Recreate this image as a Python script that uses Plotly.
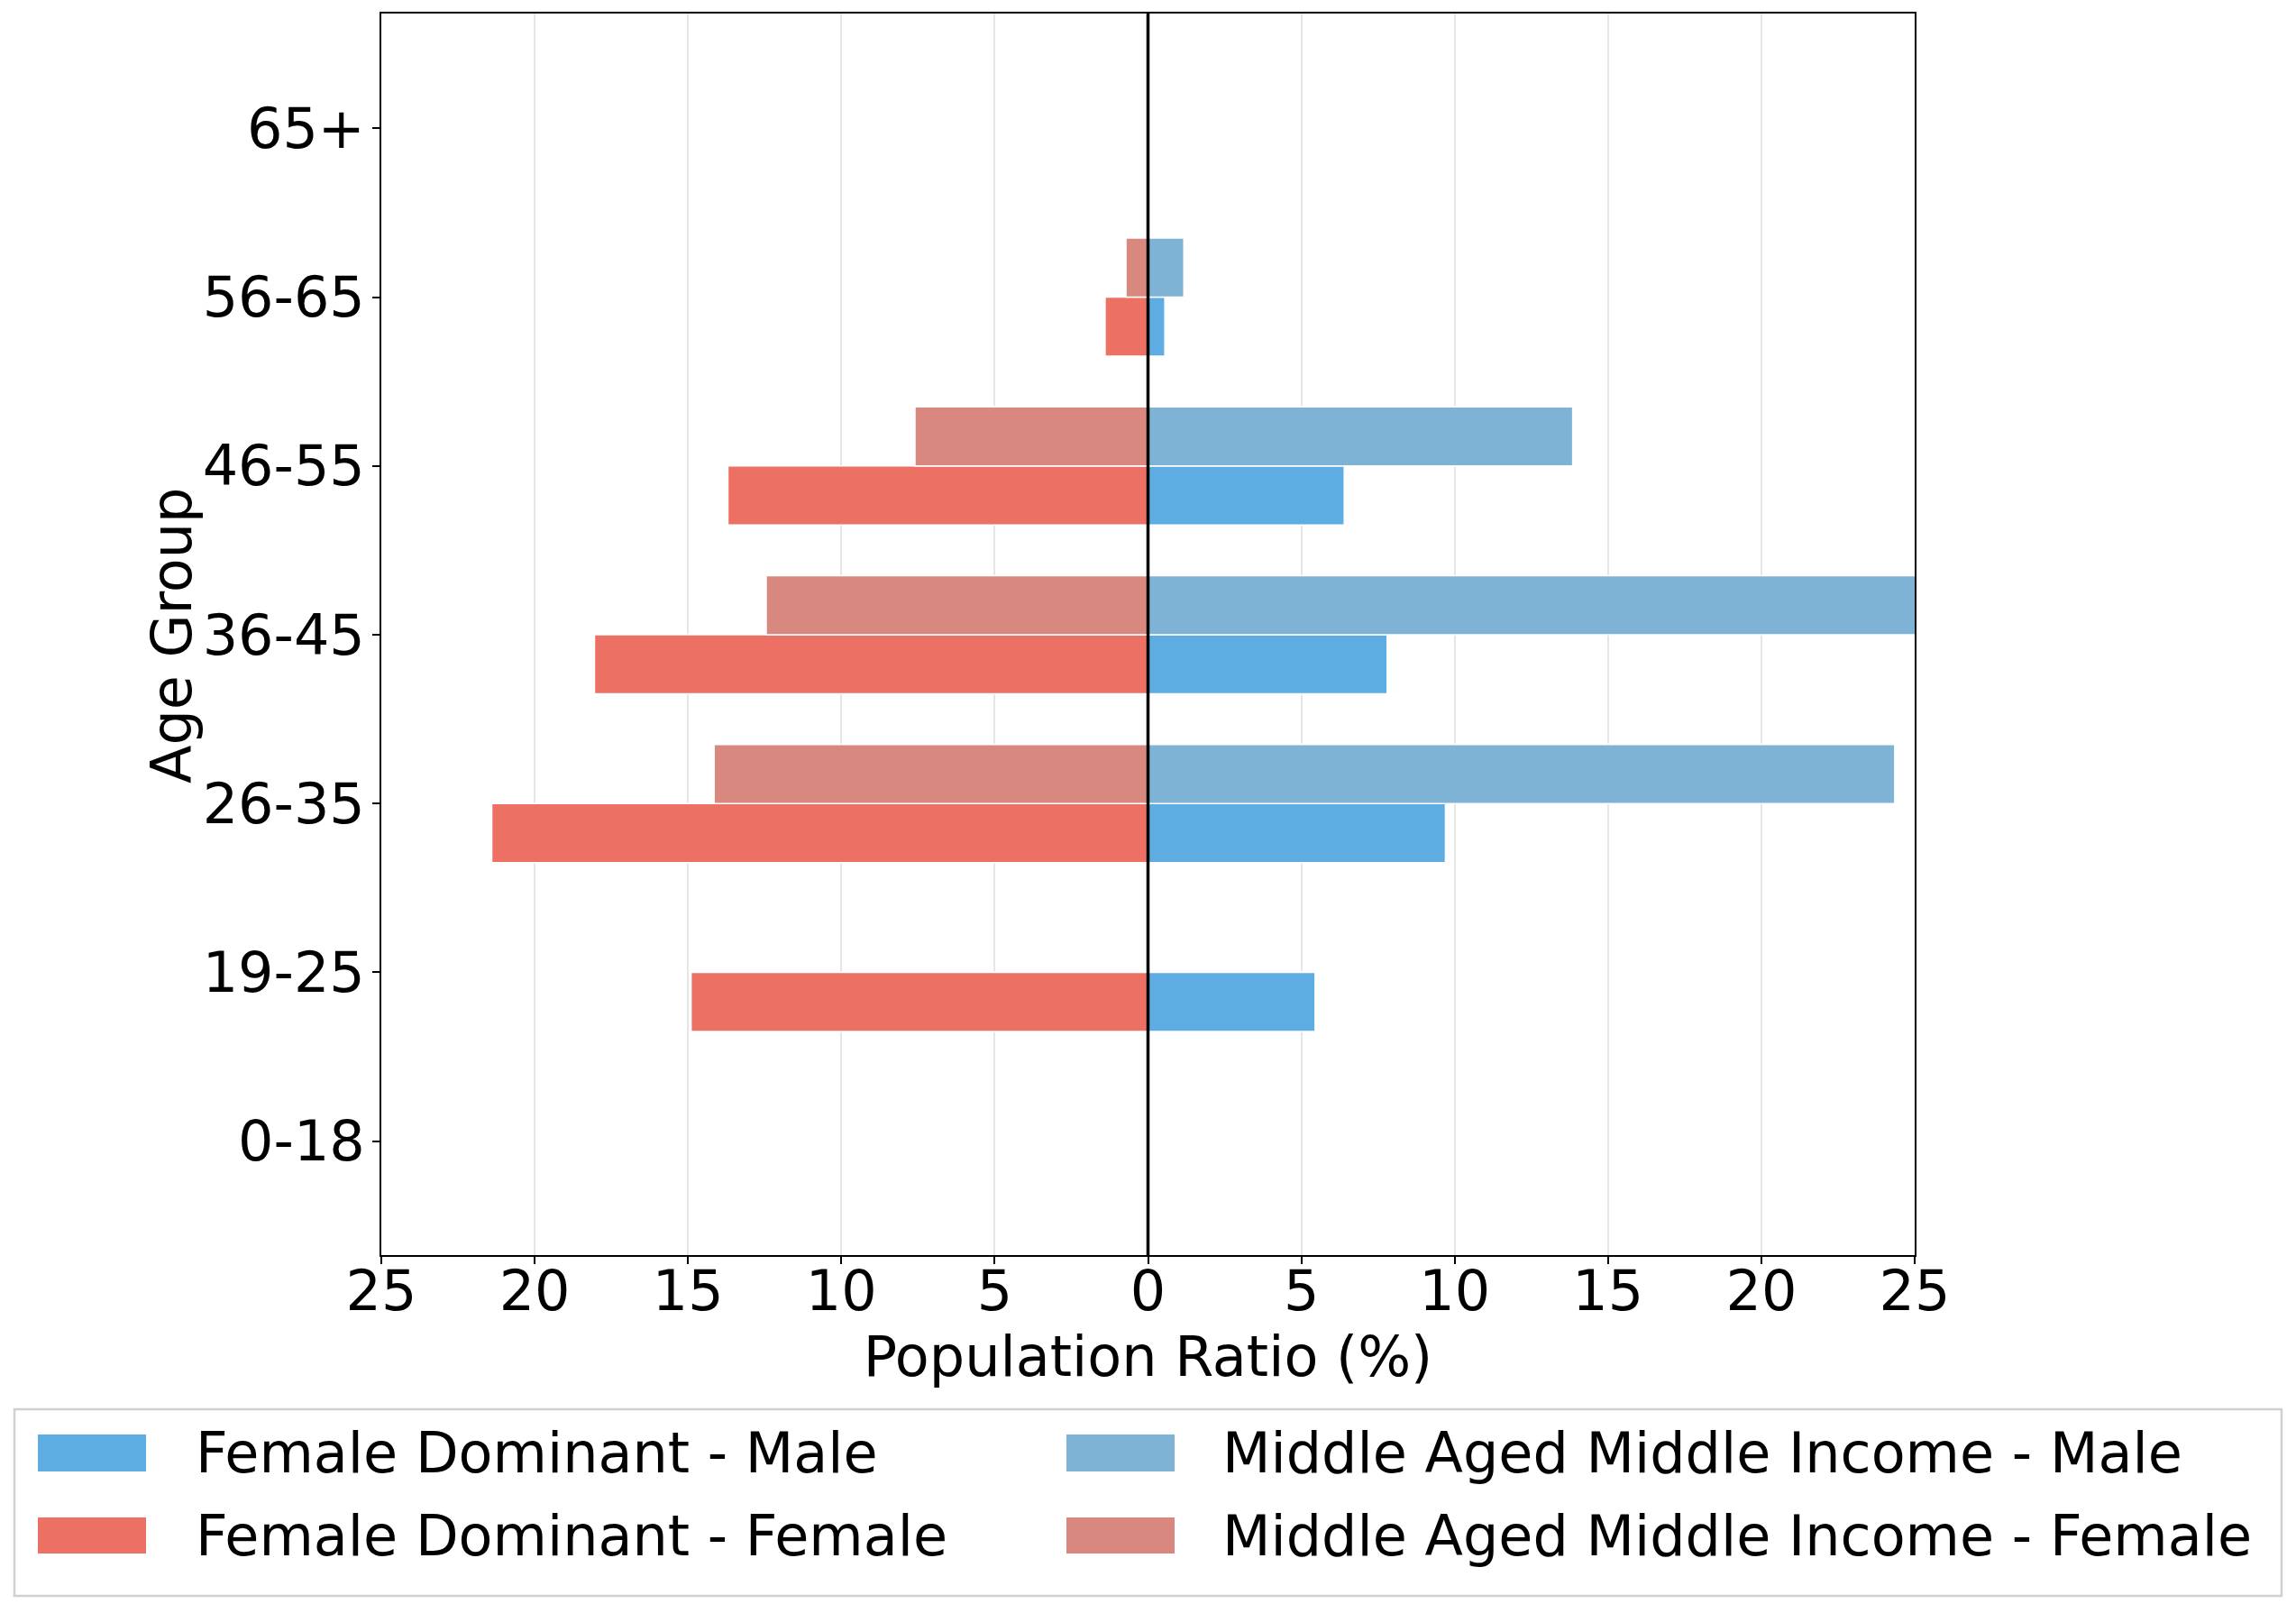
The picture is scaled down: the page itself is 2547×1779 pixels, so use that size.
import plotly.graph_objects as go

# ---------------- data ----------------
age_groups = ["0-18", "19-25", "26-35", "36-45", "46-55", "56-65", "65+"]

fd_male = [0.0, 5.45, 9.7, 7.8, 6.4, 0.55, 0.0]
fd_female = [0.0, 14.9, 21.4, 18.05, 13.7, 1.4, 0.0]
ma_male = [0.0, 0.0, 24.35, 25.8, 13.85, 1.17, 0.0]
ma_female = [0.0, 0.0, 14.15, 12.45, 7.6, 0.72, 0.0]

series_names = [
    "Female Dominant - Male",
    "Middle Aged Middle Income - Male",
    "Female Dominant - Female",
    "Middle Aged Middle Income - Female",
]
series_colors = ["#5DADE2", "#7FB3D5", "#EC7063", "#D98880"]

x_tick_vals = [-25, -20, -15, -10, -5, 0, 5, 10, 15, 20, 25]
x_tick_text = ["25", "20", "15", "10", "5", "0", "5", "10", "15", "20", "25"]

# ---------------- layout constants (page pixels) ----------------
PAGE_W, PAGE_H = 2547, 1779
OFF = 8  # default body margin of the html page
W, H = PAGE_W - OFF, PAGE_H - OFF
PL, PR, PT, PB = 423, 2124, 15, 1392  # plot area in page coords
L, T = PL - OFF, PT - OFF
R, B = W - (PR - OFF), H - (PB - OFF)
PW, PH = PR - PL, PB - PT
FONT = "DejaVu Sans"
FS = 62
BAR_W = 0.35


def px_x(p):
    return (p - PL) / PW


def px_y(p):
    return (PB - p) / PH


fig = go.Figure()

specs = [
    (fd_male, 1, -BAR_W, 0),
    (ma_male, 1, 0.0, 1),
    (fd_female, -1, -BAR_W, 2),
    (ma_female, -1, 0.0, 3),
]
for vals, sign, off, ci in specs:
    fig.add_trace(go.Bar(
        y=age_groups,
        x=[sign * v for v in vals],
        orientation="h",
        name=series_names[ci],
        marker=dict(color=series_colors[ci], line=dict(color="white", width=1.6)),
        width=BAR_W,
        offset=off,
        showlegend=False,
    ))

# zero reference line (above bars)
fig.add_shape(type="line", xref="x", yref="paper", x0=0, x1=0, y0=0, y1=1,
              line=dict(color="black", width=3.5), layer="above")

# y axis title
fig.add_annotation(xref="paper", yref="paper", x=px_x(190), y=px_y(705),
                   text="Age Group", textangle=-90, showarrow=False,
                   xanchor="center", yanchor="middle",
                   font=dict(family=FONT, size=FS, color="black"))

# ---------------- manual legend ----------------
fig.add_shape(type="rect", xref="paper", yref="paper",
              x0=px_x(16), x1=px_x(2531), y0=px_y(1770), y1=px_y(1563),
              line=dict(color="#d0d0d0", width=2.5), fillcolor="white", layer="above")

col_sw = [42, 1183]
col_tx = [215, 1354]
row_y = [(1591, 1632), (1683, 1723)]
for i, (name, color) in enumerate(zip(series_names, series_colors)):
    c = i % 2
    r = i // 2
    y0, y1 = row_y[r]
    fig.add_shape(type="rect", xref="paper", yref="paper",
                  x0=px_x(col_sw[c]), x1=px_x(col_sw[c] + 120),
                  y0=px_y(y1), y1=px_y(y0),
                  line=dict(width=0), fillcolor=color, layer="above")
    fig.add_annotation(xref="paper", yref="paper",
                       x=px_x(col_tx[c]), y=px_y((y0 + y1) / 2),
                       text=name, showarrow=False, xanchor="left", yanchor="middle",
                       font=dict(family=FONT, size=FS, color="black"))

fig.update_layout(
    width=W, height=H,
    margin=dict(l=L, r=R, t=T, b=B, autoexpand=False),
    paper_bgcolor="white", plot_bgcolor="white",
    barmode="overlay",
    font=dict(family=FONT, size=FS, color="black"),
    showlegend=False,
)
fig.update_xaxes(
    range=[-25, 25],
    tickvals=x_tick_vals, ticktext=x_tick_text,
    tickfont=dict(family=FONT, size=FS, color="black"),
    ticklabelstandoff=-23,
    title=dict(text="Population Ratio (%)", font=dict(family=FONT, size=FS, color="black"), standoff=4),
    showgrid=True, gridcolor="#e6e6e6", gridwidth=2,
    zeroline=False,
    showline=True, linecolor="black", linewidth=1.6, mirror=True,
    ticks="outside", ticklen=8, tickwidth=1.6, tickcolor="black",
)
fig.update_yaxes(
    categoryorder="array", categoryarray=age_groups,
    range=[-0.675, 6.68],
    tickfont=dict(family=FONT, size=FS, color="black"),
    ticklabelstandoff=-4,
    showgrid=False, zeroline=False,
    showline=True, linecolor="black", linewidth=1.6, mirror=True,
    ticks="outside", ticklen=8, tickwidth=1.6, tickcolor="black",
)

fig.write_html("out.html")
